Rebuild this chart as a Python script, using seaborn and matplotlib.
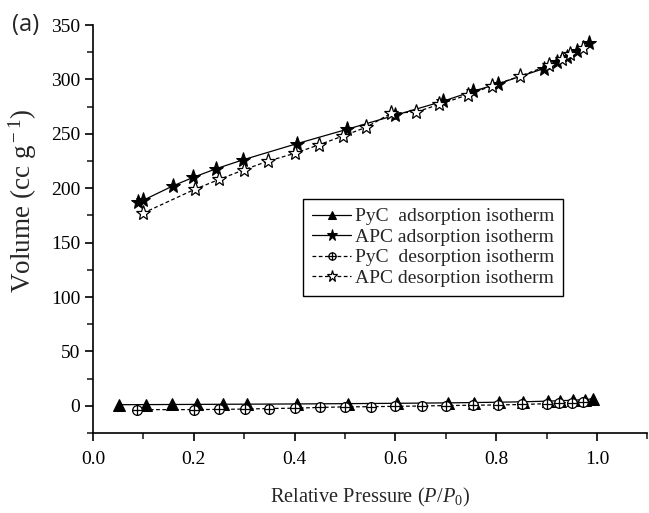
import numpy as np
import pandas as pd
import seaborn as sns
import matplotlib
matplotlib.use("Agg")
import matplotlib.pyplot as plt
from matplotlib.path import Path
from matplotlib.ticker import MultipleLocator, FormatStrFormatter

# ---- data ----
apc_ads_x = [0.09, 0.10, 0.158, 0.199, 0.245, 0.297, 0.405, 0.503, 0.599, 0.695, 0.753, 0.804,
             0.895, 0.92, 0.94, 0.96, 0.985]
apc_ads_y = [187, 189, 202, 210, 218, 226, 241, 254, 267, 280, 289, 296,
             310, 316, 321, 326, 333]

apc_des_x = [0.099, 0.202, 0.25, 0.30, 0.348, 0.40, 0.449, 0.496, 0.542, 0.592, 0.641, 0.687,
             0.745, 0.791, 0.847, 0.905, 0.93, 0.947, 0.973]
apc_des_y = [177, 199, 208, 217, 225, 232, 240, 248, 256, 269, 270, 277,
             286, 294, 303, 313, 319, 323, 329]

pyc_ads_x = [0.052, 0.105, 0.156, 0.206, 0.257, 0.306, 0.404, 0.505, 0.604, 0.705, 0.755, 0.806,
             0.854, 0.903, 0.927, 0.952, 0.976, 0.993]
pyc_ads_y = [1.0, 1.1, 1.2, 1.3, 1.4, 1.5, 1.7, 2.0, 2.3, 2.7, 3.0, 3.3,
             3.7, 4.3, 4.7, 5.1, 5.7, 6.5]

pyc_des_x = [0.088, 0.2, 0.25, 0.302, 0.35, 0.40, 0.45, 0.5, 0.552, 0.6, 0.652, 0.70,
             0.753, 0.804, 0.852, 0.901, 0.925, 0.95, 0.973]
pyc_des_y = [-3.5, -3.5, -3.3, -3.0, -2.5, -2.2, -1.5, -1.0, -0.8, -0.5, -0.2, 0.2,
             0.5, 0.8, 1.2, 2.0, 2.5, 3.0, 3.5]

labels = ["PyC  adsorption isotherm", "APC adsorption isotherm",
          "PyC  desorption isotherm", "APC desorption isotherm"]

# ---- style ----
sns.set_theme(style="ticks")
plt.rcParams["font.family"] = ["Liberation Serif", "DejaVu Serif"]
plt.rcParams["mathtext.fontset"] = "custom"
plt.rcParams["mathtext.rm"] = "Liberation Serif"
plt.rcParams["mathtext.it"] = "Liberation Serif:italic"
plt.rcParams["xtick.direction"] = "out"
plt.rcParams["ytick.direction"] = "out"

# crossed-circle marker
circ = Path.unit_circle()
cross = Path([(-1, 0), (1, 0), (0, -1), (0, 1)],
             [Path.MOVETO, Path.LINETO, Path.MOVETO, Path.LINETO])
oplus = Path.make_compound_path(circ, cross)

fig = plt.figure(figsize=(6.49, 5.13), dpi=100)
ax = fig.add_axes([93 / 649, 1 - 433 / 513, (647.4 - 93) / 649, (433 - 25) / 513])

lw = 0.9
sns.lineplot(x=pyc_ads_x, y=pyc_ads_y, ax=ax, sort=False, estimator=None, color="black",
             lw=lw, marker="^", markersize=8, markerfacecolor="black",
             markeredgecolor="black", label=labels[0])
sns.lineplot(x=apc_ads_x, y=apc_ads_y, ax=ax, sort=False, estimator=None, color="black",
             lw=lw, marker="*", markersize=11, markerfacecolor="black",
             markeredgecolor="black", label=labels[1])
sns.lineplot(x=pyc_des_x, y=pyc_des_y, ax=ax, sort=False, estimator=None, color="black",
             lw=lw, linestyle=(0, (3, 2)), marker=oplus, markersize=7,
             markerfacecolor="white", markeredgecolor="black", markeredgewidth=0.9,
             label=labels[2])
sns.lineplot(x=apc_des_x, y=apc_des_y, ax=ax, sort=False, estimator=None, color="black",
             lw=lw, linestyle=(0, (3, 2)), marker="*", markersize=11,
             markerfacecolor="white", markeredgecolor="black", markeredgewidth=0.9,
             label=labels[3])

ax.set_xlim(0, 1.1)
ax.set_ylim(-25, 350)
ax.xaxis.set_major_locator(MultipleLocator(0.2))
ax.xaxis.set_minor_locator(MultipleLocator(0.1))
ax.yaxis.set_major_locator(MultipleLocator(50))
ax.yaxis.set_minor_locator(MultipleLocator(25))
ax.xaxis.set_major_formatter(FormatStrFormatter("%.1f"))
ax.yaxis.set_major_formatter(FormatStrFormatter("%d"))
ax.tick_params(which="major", length=6, width=1.2, labelsize=14, colors="black")
ax.tick_params(axis="y", which="major", pad=3)
ax.tick_params(axis="x", which="major", pad=7)
ax.tick_params(which="minor", length=4, width=1.2)
for s in ["top", "right"]:
    ax.spines[s].set_visible(False)
for s in ["left", "bottom"]:
    ax.spines[s].set_linewidth(1.2)
    ax.spines[s].set_color("black")

ax.set_xlabel(r"Relative Pressure ($P$/$P_{\rm 0}$)", fontsize=14.7, labelpad=13)
ax.set_ylabel(r"Volume (cc g$^{\rm -1}$)", fontsize=19.5)
ax.yaxis.set_label_coords(-0.098, 0.569)

leg = ax.legend(loc="upper right", bbox_to_anchor=(0.848, 0.5735), fontsize=14,
                frameon=True, fancybox=False, edgecolor="black", framealpha=1,
                handlelength=2.0, handletextpad=0.2, labelspacing=0.15,
                borderpad=0.45, borderaxespad=0, markerscale=0.75)
leg.get_frame().set_linewidth(1.0)

fig.text(12 / 649, 1 - 25 / 513, "(a)", family=["Open Sans", "DejaVu Sans"],
         fontsize=17, va="center", ha="left")

fig.savefig("out.png", dpi=100)
